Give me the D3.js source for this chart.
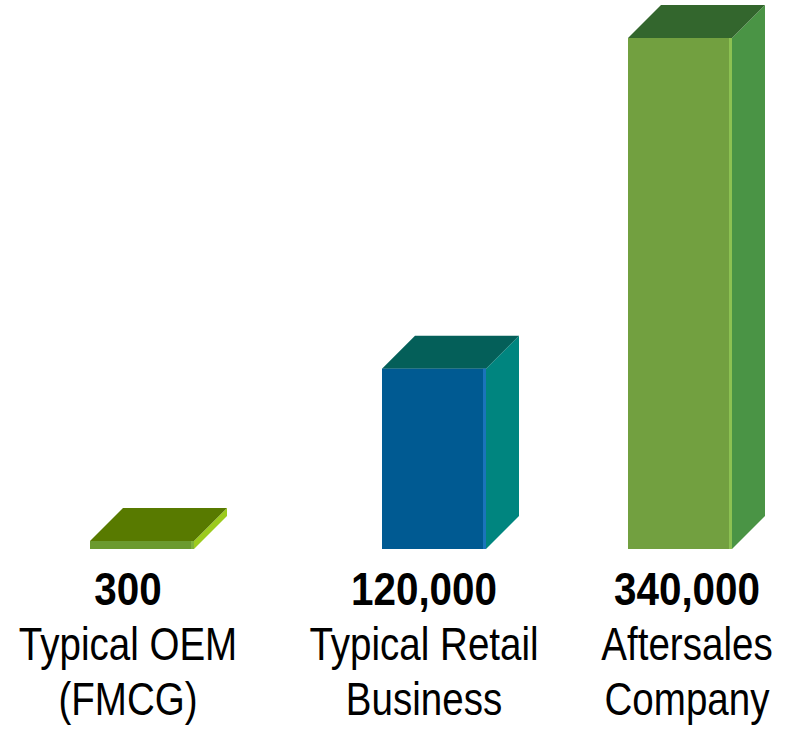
<!DOCTYPE html>
<html>
<head>
<meta charset="utf-8">
<script src="https://cdn.jsdelivr.net/npm/d3@7"></script>
<style>
  html, body { margin: 0; padding: 0; background: #ffffff; }
  svg { display: block; }
</style>
</head>
<body>
<div id="chart"></div>
<script>
// ---- data ----
const categories = ["Typical OEM (FMCG)", "Typical Retail Business", "Aftersales Company"];
const values = [300, 120000, 340000];
const valueLabels = ["300", "120,000", "340,000"];
const nameLines = [["Typical OEM", "(FMCG)"], ["Typical Retail", "Business"], ["Aftersales", "Company"]];
const frontColors = ["#6b9a2e", "#005a92", "#72a040"];
const edgeColors = ["#7fb23a", "#1b74bb", "#8cc152"];
const sideColors = ["#9ccb1d", "#00857f", "#4a9445"];
const topColors = ["#587a00", "#045f59", "#33662d"];

// ---- layout ----
const W = 788, H = 730;
const baseY = 549, topY = 38;
const barW = 104, depth = 33, minH = 8;

const svg = d3.select("#chart").append("svg").attr("width", W).attr("height", H);

const y = d3.scaleLinear().domain([0, d3.max(values)]).range([baseY, topY]);
const xBar = d3.scaleOrdinal().domain(categories).range([90, 382, 628]);
const xLabel = d3.scaleOrdinal().domain(categories).range([128, 424, 687]);

const data = categories.map((c, i) => ({ c, v: values[i], i }));

const bars = svg.append("g").selectAll("g").data(data).join("g");

bars.each(function(d) {
  const g = d3.select(this);
  const x0 = xBar(d.c), x1 = x0 + barW;
  const yt = Math.min(y(d.v), baseY - minH);
  const yb = baseY;
  // side face
  g.append("path")
    .attr("d", `M${x1},${yt} L${x1 + depth},${yt - depth} L${x1 + depth},${yb - depth} L${x1},${yb} Z`)
    .attr("fill", sideColors[d.i]);
  // top face
  g.append("path")
    .attr("d", `M${x0},${yt} L${x0 + depth},${yt - depth} L${x1 + depth},${yt - depth} L${x1},${yt} Z`)
    .attr("fill", topColors[d.i]);
  // front face
  g.append("rect")
    .attr("x", x0).attr("y", yt).attr("width", barW).attr("height", yb - yt)
    .attr("fill", frontColors[d.i]);
  // light bevel edge at right of front face
  g.append("rect")
    .attr("x", x1 - 3).attr("y", yt).attr("width", 3).attr("height", yb - yt)
    .attr("fill", edgeColors[d.i]);
});

// ---- labels (narrow sans: regular face compressed horizontally) ----
const labels = svg.append("g").selectAll("g").data(data).join("g")
  .attr("transform", d => `translate(${xLabel(d.c)},0)`);

labels.append("text")
  .attr("x", 0).attr("y", 605)
  .attr("transform", "scale(0.86,1)")
  .attr("text-anchor", "middle")
  .style("font-family", "'Liberation Sans', Arial, sans-serif")
  .style("font-weight", "bold")
  .style("font-size", "47px")
  .attr("fill", "#000")
  .text(d => valueLabels[d.i]);

labels.each(function(d) {
  const g = d3.select(this).append("g").attr("transform", "scale(0.82,1)");
  nameLines[d.i].forEach((line, k) => {
    g.append("text")
      .attr("x", 0).attr("y", 660 + k * 55)
      .attr("text-anchor", "middle")
      .style("font-family", "'Liberation Sans', Arial, sans-serif")
      .style("font-size", "47px")
      .attr("fill", "#000")
      .text(line);
  });
});
</script>
</body>
</html>
